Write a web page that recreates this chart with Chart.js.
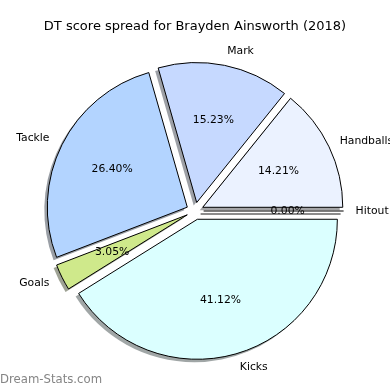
<!DOCTYPE html>
<html>
<head>
<meta charset="utf-8">
<script src="https://cdn.jsdelivr.net/npm/chart.js@4.4.1/dist/chart.umd.min.js"></script>
<style>
  html, body { margin: 0; padding: 0; background: #fff; }
  #wrap { width: 390px; height: 390px; position: relative; }
</style>
</head>
<body>
<div id="wrap"><canvas id="c" width="390" height="390"></canvas></div>
<script>
// Data (drawn clockwise from 3 o'clock, i.e. the reverse of the reference's counter-clockwise order)
const categories = ['Kicks', 'Goals', 'Tackle', 'Mark', 'Handballs', 'Hitout'];
const values = [41.12, 3.05, 26.40, 15.23, 14.21, 0.00];
const sliceColors = ['#dbffff', '#cfe98b', '#b3d4ff', '#c6d9ff', '#ebf2ff', '#f0f0ff'];
const titleText = 'DT score spread for Brayden Ainsworth (2018)';
const watermark = 'Dream-Stats.com';

const EXPLODE = 0.0615;   // fraction of radius
const SHADOW_DX = -3, SHADOW_DY = 3;
const FONT = '"DejaVu Sans", sans-serif';

function shadowColor(hex) {
  const r = parseInt(hex.slice(1, 3), 16), g = parseInt(hex.slice(3, 5), 16), b = parseInt(hex.slice(5, 7), 16);
  return `rgba(${Math.round(r * 0.3)},${Math.round(g * 0.3)},${Math.round(b * 0.3)},0.5)`;
}

const explodePlugin = {
  id: 'explodeShadow',
  beforeDatasetDraw(chart, args) {
    const meta = args.meta;
    const ctx = chart.ctx;
    const items = meta.data.map((arc, i) => {
      const p = arc.getProps(['x', 'y', 'startAngle', 'endAngle', 'outerRadius'], true);
      const mid = (p.startAngle + p.endAngle) / 2;
      const d = EXPLODE * p.outerRadius;
      return { arc, p, mid, ox: Math.cos(mid) * d, oy: Math.sin(mid) * d, color: sliceColors[i] };
    });
    // shadows
    items.forEach(it => {
      const { p } = it;
      ctx.save();
      ctx.translate(it.ox + SHADOW_DX, it.oy + SHADOW_DY);
      ctx.beginPath();
      if (p.endAngle - p.startAngle > 1e-6) {
        ctx.moveTo(p.x, p.y);
        ctx.arc(p.x, p.y, p.outerRadius, p.startAngle, p.endAngle);
        ctx.closePath();
        ctx.fillStyle = shadowColor(it.color);
        ctx.fill();
      } else {
        ctx.moveTo(p.x, p.y);
        ctx.lineTo(p.x + Math.cos(p.startAngle) * p.outerRadius, p.y + Math.sin(p.startAngle) * p.outerRadius);
        ctx.strokeStyle = 'rgba(0,0,0,0.45)';
        ctx.lineWidth = 2;
        ctx.stroke();
      }
      ctx.restore();
    });
    // wedges
    items.forEach(it => {
      const { p } = it;
      ctx.save();
      ctx.translate(it.ox, it.oy);
      if (p.endAngle - p.startAngle > 1e-6) {
        it.arc.draw(ctx);
      } else {
        ctx.beginPath();
        ctx.moveTo(p.x, p.y);
        ctx.lineTo(p.x + Math.cos(p.startAngle) * p.outerRadius, p.y + Math.sin(p.startAngle) * p.outerRadius);
        ctx.strokeStyle = '#000';
        ctx.lineWidth = 1;
        ctx.stroke();
      }
      ctx.restore();
    });
    return false;
  },
  afterDatasetsDraw(chart) {
    const meta = chart.getDatasetMeta(0);
    const ctx = chart.ctx;
    const total = values.reduce((a, b) => a + b, 0);
    ctx.save();
    ctx.fillStyle = '#000';
    ctx.textBaseline = 'middle';
    ctx.font = '10.8px ' + FONT;
    meta.data.forEach((arc, i) => {
      const p = arc.getProps(['x', 'y', 'startAngle', 'endAngle', 'outerRadius'], true);
      const mid = (p.startAngle + p.endAngle) / 2;
      const r = p.outerRadius;
      const cx = p.x + Math.cos(mid) * EXPLODE * r;
      const cy = p.y + Math.sin(mid) * EXPLODE * r;
      const lx = cx + Math.cos(mid) * 1.1 * r;
      const ly = cy + Math.sin(mid) * 1.1 * r;
      ctx.textAlign = Math.cos(mid) > 0 ? 'left' : 'right';
      ctx.fillText(categories[i], lx - (Math.cos(mid) > 0.5 ? 2 : 0), ly);
      ctx.textAlign = 'center';
      const pct = (values[i] / total * 100).toFixed(2) + '%';
      ctx.fillText(pct, cx + Math.cos(mid) * 0.6 * r, cy + Math.sin(mid) * 0.6 * r);
    });
    ctx.font = '11.7px ' + FONT;
    ctx.fillStyle = 'rgba(110,110,110,0.85)';
    ctx.textAlign = 'left';
    ctx.fillText(watermark, 0, 380);
    ctx.restore();
  }
};

new Chart(document.getElementById('c'), {
  type: 'pie',
  data: {
    labels: categories,
    datasets: [{
      data: values,
      backgroundColor: sliceColors,
      borderColor: '#000',
      borderWidth: 1,
      offset: 0,
      hoverOffset: 0
    }]
  },
  options: {
    responsive: false,
    animation: false,
    rotation: 90,
    radius: 140,
    layout: { padding: { top: 0, bottom: 8, left: 0, right: 0 } },
    plugins: {
      legend: { display: false },
      tooltip: { enabled: false },
      title: {
        display: true,
        text: titleText,
        color: '#000',
        font: { family: FONT, size: 13, weight: 'normal' },
        padding: { top: 19, bottom: 5.4 }
      }
    },
    events: []
  },
  plugins: [explodePlugin]
});
</script>
</body>
</html>
